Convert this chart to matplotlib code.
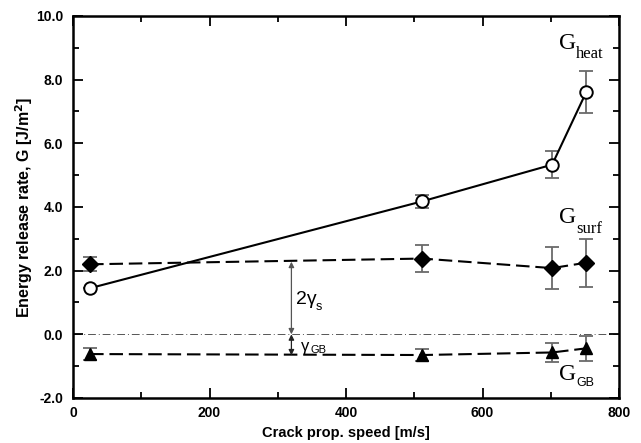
import matplotlib
matplotlib.use("Agg")
import matplotlib.pyplot as plt
from matplotlib.ticker import MultipleLocator, FormatStrFormatter

# Data
speed = [25, 512, 702, 752]
g_heat = [1.45, 4.18, 5.33, 7.61]
g_heat_err = [0.0, 0.21, 0.43, 0.65]
g_surf = [2.20, 2.38, 2.08, 2.25]
g_surf_err = [0.22, 0.43, 0.65, 0.75]
g_gb = [-0.62, -0.65, -0.57, -0.44]
g_gb_err = [0.20, 0.20, 0.30, 0.40]

plt.rcParams['font.family'] = ['Liberation Sans', 'DejaVu Sans']

fig = plt.figure(figsize=(6.41, 4.43), dpi=100)
ax = fig.add_axes([0.1139, 0.1016, 0.8518, 0.8623])

errc = '#6a6a6a'
dash = (0, (6.5, 2.8))

# zero reference line
ax.axhline(0, color='#555555', lw=0.7, linestyle=(0, (8, 3, 1, 3)), zorder=1)

ax.errorbar(speed, g_surf, yerr=g_surf_err, fmt='none', ecolor=errc, elinewidth=1.3, capsize=5, capthick=1.3, zorder=2)
ax.plot(speed, g_surf, color='black', lw=1.5, linestyle=dash, marker='D', markersize=8.5,
        markerfacecolor='black', markeredgecolor='black', zorder=3)

ax.errorbar(speed, g_gb, yerr=g_gb_err, fmt='none', ecolor=errc, elinewidth=1.3, capsize=5, capthick=1.3, zorder=2)
ax.plot(speed, g_gb, color='black', lw=1.5, linestyle=dash, marker='^', markersize=9,
        markerfacecolor='black', markeredgecolor='black', zorder=3)

ax.errorbar(speed, g_heat, yerr=g_heat_err, fmt='none', ecolor=errc, elinewidth=1.3, capsize=5, capthick=1.3, zorder=2)
ax.plot(speed, g_heat, color='black', lw=1.5, linestyle='-', marker='o', markersize=9,
        markerfacecolor='white', markeredgecolor='black', markeredgewidth=1.4, zorder=4)

# double arrows
arr_x = 320
ax.annotate('', xy=(arr_x, 2.28), xytext=(arr_x, 0.0),
            arrowprops=dict(arrowstyle='<|-|>', color='#555555', lw=0.9,
                            mutation_scale=8, shrinkA=0, shrinkB=0), zorder=5)
ax.annotate('', xy=(arr_x, 0.0), xytext=(arr_x, -0.66),
            arrowprops=dict(arrowstyle='<|-|>', color='#222222', lw=0.9,
                            mutation_scale=8, shrinkA=0, shrinkB=0), zorder=5)

# labels in plot
ax.text(327, 1.08, '2γ', fontsize=14, ha='left', va='center', family='Liberation Sans')
ax.text(356, 0.86, 's', fontsize=9, ha='left', va='center', family='Liberation Sans')
ax.text(334, -0.38, 'γ', fontsize=12, ha='left', va='center', family='Liberation Sans')
ax.text(348, -0.50, 'GB', fontsize=8, ha='left', va='center', family='Liberation Sans')

ax.text(712, 9.15, 'G', fontsize=17, ha='left', va='center', family='Liberation Serif')
ax.text(737, 8.8, 'heat', fontsize=12, ha='left', va='center', family='Liberation Serif')
ax.text(712, 3.68, 'G', fontsize=17, ha='left', va='center', family='Liberation Serif')
ax.text(737, 3.32, 'surf', fontsize=12, ha='left', va='center', family='Liberation Serif')
ax.text(712, -1.26, 'G', fontsize=17, ha='left', va='center', family='Liberation Serif')
ax.text(737, -1.52, 'GB', fontsize=9, ha='left', va='center', family='Liberation Sans')

ax.set_xlim(0, 800)
ax.set_ylim(-2.0, 10.0)
ax.xaxis.set_major_locator(MultipleLocator(200))
ax.xaxis.set_minor_locator(MultipleLocator(100))
ax.yaxis.set_major_locator(MultipleLocator(2.0))
ax.yaxis.set_minor_locator(MultipleLocator(1.0))
ax.yaxis.set_major_formatter(FormatStrFormatter('%.1f'))
ax.tick_params(which='both', direction='in', top=True, right=True, width=1.3,
               labelsize=10, pad=7)
ax.tick_params(axis='x', which='both', pad=6)
ax.tick_params(which='major', length=7)
ax.tick_params(which='minor', length=4.5)
for lab in ax.get_xticklabels() + ax.get_yticklabels():
    lab.set_fontweight('bold')
for s in ax.spines.values():
    s.set_linewidth(1.8)

ax.set_xlabel('Crack prop. speed [m/s]', fontsize=10.5, fontweight='bold', labelpad=4)
ax.set_ylabel('Energy release rate, G [J/m$^\\mathbf{2}$]', fontsize=11.5, fontweight='bold', labelpad=1)

fig.savefig('out.png', dpi=100)
